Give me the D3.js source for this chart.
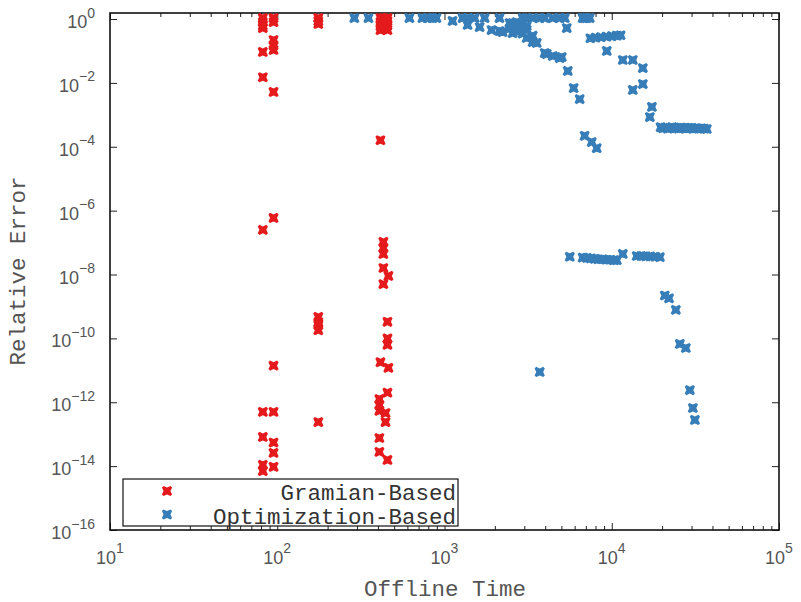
<!DOCTYPE html>
<html><head><meta charset="utf-8">
<script src="https://cdn.jsdelivr.net/npm/d3@7"></script>
<style>body{margin:0;background:#fff}</style></head>
<body><svg id="c" width="801" height="602"></svg>
<script>
const seriesNames = ["Gramian-Based", "Optimization-Based"];
const seriesColors = ["#e41a1c", "#377eb8"];
const xTickExps = [1, 2, 3, 4, 5];
const yTickExps = [0, -2, -4, -6, -8, -10, -12, -14, -16];

const gramian = [
  [82,1.07],[82,0.8],[82,0.62],[82,0.52],[95,1.07],[95,0.8],[95,0.22],[95,0.15],[95,0.107],
  [82,0.093],[82,0.015],[95,0.0052],[95,5.9e-7],[82,2.5e-7],[95,1.4e-11],[82,5e-13],[95,5e-13],
  [82,8.2e-14],[95,5.5e-14],[95,2.6e-14],[82,1.1e-14],[82,7e-15],[95,9.5e-15],
  [176,1.07],[176,0.85],[176,0.7],[176,4.7e-10],[176,3.2e-10],[176,2.6e-10],[176,1.8e-10],[176,2.4e-13],
  [414,1.07],[414,0.8],[414,0.6],[414,0.45],[431,1.07],[431,0.7],[431,0.5],[456,1.07],[456,0.85],[456,0.62],[456,0.45],[444,0.9],
  [414,1.6e-4],[431,1.05e-7],[431,6.8e-8],[431,4.4e-8],[431,1.6e-8],[462,9e-9],[431,5e-9],
  [456,3.3e-10],[456,1.0e-10],[456,6.3e-11],[414,1.8e-11],[462,1.2e-11],[456,2e-12],
  [408,1.26e-12],[408,8.2e-13],[408,5.4e-13],[444,4.6e-13],[444,2.4e-13],[408,7.6e-14],[408,2.8e-14],[456,1.56e-14]
];

const optimization = [
  [289,1.07],[351,1.07],[617,1.07],[738,1.07],[791,1.07],[847,1.07],[895,1.07],[1117,0.87],[1282,1.07],
  [1374,1.07],[1374,0.65],[1514,1.07],[1622,0.56],[1738,1.07],[1911,0.45],[2133,1.07],[2133,0.42],[2224,0.39],
  [2449,0.5],[2449,0.75],[2553,0.75],[2553,0.6],[2553,0.36],[2698,0.55],[2698,0.8],[2813,0.42],[2813,0.65],
  [2933,1.07],[2933,0.5],[2933,0.35],[3100,1.07],[3100,0.6],[3100,0.45],[3100,0.254],[3367,1.07],[3367,0.3],[3367,0.19],
  [3559,0.178],[3709,1.07],[3974,1.07],[3974,0.086],[4085,0.08],[4439,1.07],[4439,0.0695],[4889,1.07],[4889,0.06],
  [5026,0.0646],[5237,1.07],[5383,0.52],[5458,0.0236],[5919,0.0069],[6432,0.0031],
  [6700,1.07],[6887,1.07],[7080,1.07],[7382,1.07],
  [7450,0.25],[8000,0.26],[8600,0.27],[9300,0.28],[10000,0.29],[10700,0.3],[11300,0.31],
  [9338,0.1],[11640,0.052],[13360,0.052],[15340,0.029],[15340,0.0092],[13360,0.006],[17380,0.00176],[16900,8.5e-4],
  [19600,4.1e-4],[20200,3.8e-4],[20900,4.0e-4],[21600,3.7e-4],[22300,3.9e-4],[23000,4.1e-4],[23700,3.8e-4],
  [24400,3.9e-4],[25100,3.7e-4],[25800,4.0e-4],[26500,3.8e-4],[27200,3.9e-4],[27900,3.7e-4],[28600,3.9e-4],
  [29300,3.8e-4],[30100,3.9e-4],[31000,3.7e-4],[32000,3.8e-4],[33100,3.7e-4],[34300,3.8e-4],[35600,3.7e-4],[37000,3.6e-4],
  [6887,2.2e-4],[7588,1.4e-4],[8130,9e-5],
  [5611,3.6e-8],[6700,3.4e-8],[7100,3.3e-8],[7500,3.2e-8],[7900,3.1e-8],[8300,3.0e-8],[8800,3.0e-8],[9300,2.9e-8],
  [9800,2.9e-8],[10300,2.8e-8],[10720,2.8e-8],[11640,4.4e-8],
  [14100,3.8e-8],[15000,3.8e-8],[16000,3.7e-8],[17000,3.7e-8],[18200,3.6e-8],[19400,3.5e-8],
  [20760,2.2e-9],[22000,1.8e-9],[24160,7.8e-10],[25530,6.7e-11],[27730,5e-11],[29300,2.4e-12],[30550,6.6e-13],[31410,2.8e-13],
  [3709,8.9e-12]
];

const svg = d3.select("#c");
const L = 110, R = 779, T = 13, B = 530;
const x = d3.scaleLog().domain([10, 1e5]).range([L, R]);
const y = d3.scaleLog().domain([1e-16, Math.pow(10, 0.188)]).range([B, T]);

const majorX = xTickExps.map(e => Math.pow(10, e));
const minorX = [];
for (let e = 1; e < 5; e++) for (let k = 2; k <= 9; k++) minorX.push(k * Math.pow(10, e));
const majorY = yTickExps.map(e => Math.pow(10, e));

function drawAxis(gen, tr) {
  const g = svg.append("g").attr("transform", tr).call(gen);
  g.select(".domain").remove();
  g.selectAll("line").attr("stroke", "#222").attr("stroke-width", 1);
  g.selectAll("text").remove();
}
drawAxis(d3.axisBottom(x).tickValues(majorX).tickSize(-7), `translate(0,${B})`);
drawAxis(d3.axisBottom(x).tickValues(minorX).tickSize(-4), `translate(0,${B})`);
drawAxis(d3.axisTop(x).tickValues(majorX).tickSize(-7), `translate(0,${T})`);
drawAxis(d3.axisTop(x).tickValues(minorX).tickSize(-4), `translate(0,${T})`);
drawAxis(d3.axisLeft(y).tickValues(majorY).tickSize(-7), `translate(${L},0)`);
drawAxis(d3.axisRight(y).tickValues(majorY).tickSize(-7), `translate(${R},0)`);

svg.append("rect").attr("x", L).attr("y", T).attr("width", R - L).attr("height", B - T)
  .attr("fill", "none").attr("stroke", "#111").attr("stroke-width", 1.6);

const sans = "'Liberation Sans', Arial, Helvetica, sans-serif";
const mono = "'Liberation Mono', 'Courier New', monospace";

xTickExps.forEach(e => {
  const t = svg.append("text").attr("x", x(Math.pow(10, e))).attr("y", 564)
    .attr("text-anchor", "middle").attr("font-family", sans).attr("font-size", 18).attr("fill", "#555");
  t.append("tspan").text("10");
  t.append("tspan").attr("dy", -11).attr("font-size", 14).text(String(e).replace("-", "\u2212"));
});
yTickExps.forEach(e => {
  const t = svg.append("text").attr("x", 95).attr("y", y(Math.pow(10, e)) + 9)
    .attr("text-anchor", "end").attr("font-family", sans).attr("font-size", 18).attr("fill", "#555");
  t.append("tspan").text("10");
  t.append("tspan").attr("dy", -10.5).attr("font-size", 14).text(String(e).replace("-", "\u2212"));
});

svg.append("text").attr("x", 445).attr("y", 596).attr("text-anchor", "middle")
  .attr("font-family", mono).attr("font-size", 22.5).attr("fill", "#555").text("Offline Time");
svg.append("text").attr("transform", "translate(25,271) rotate(-90)").attr("text-anchor", "middle")
  .attr("font-family", mono).attr("font-size", 22.5).attr("fill", "#555").text("Relative Error");

function markerPath(h) {
  const a = h * 0.32, n = h * 0.68;
  const p = [[-h,-h+a],[-h+a,-h],[0,-n],[h-a,-h],[h,-h+a],[n,0],[h,h-a],[h-a,h],[0,n],[-h+a,h],[-h,h-a],[-n,0]];
  return "M" + p.map(q => q.join(",")).join("L") + "Z";
}
const mp = markerPath(5.1);

const plot = svg.append("g");
[gramian, optimization].forEach((data, i) => {
  plot.selectAll(null).data(data).enter().append("path")
    .attr("d", mp)
    .attr("transform", d => `translate(${x(d[0])},${y(d[1])})`)
    .attr("fill", seriesColors[i]);
});

const lg = svg.append("g");
lg.append("rect").attr("x", 123).attr("y", 479).attr("width", 335).attr("height", 47)
  .attr("fill", "#fff").attr("stroke", "#111").attr("stroke-width", 1.2);
seriesNames.forEach((name, i) => {
  const cy = 491 + i * 23.5;
  lg.append("path").attr("d", mp).attr("transform", `translate(167,${cy})`).attr("fill", seriesColors[i]);
  lg.append("text").attr("x", 456).attr("y", cy + 9).attr("text-anchor", "end")
    .attr("font-family", mono).attr("font-size", 22.5).attr("fill", "#333").text(name);
});
</script></body></html>
